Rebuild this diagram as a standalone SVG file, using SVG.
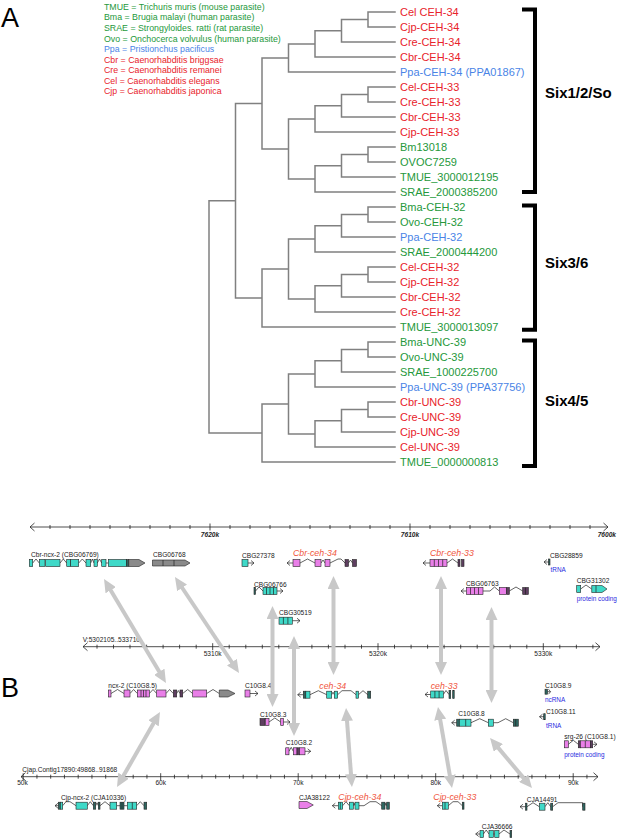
<svg xmlns="http://www.w3.org/2000/svg" width="617" height="838" viewBox="0 0 617 838">
<style>
text{font-family:"Liberation Sans",Arial,sans-serif}
.tr{fill:none;stroke:#808080;stroke-width:1.5;stroke-linecap:square}
.lf{font-size:11px}
.lg{font-size:8.8px}
.r{fill:#e8232b}.g{fill:#25983b}.b{fill:#4a84e6}
.bk{fill:none;stroke:#000;stroke-width:4}
.cl{font-size:15px;font-weight:bold;fill:#000}
.pl{font-size:27px;fill:#000}
.ax{fill:none;stroke:#222;stroke-width:.8}
.tl{font-size:6.6px;fill:#222;text-anchor:middle}
.bi{font-weight:bold;font-style:italic}
.gl{font-size:6.6px;fill:#222}
.rl{font-size:8.8px;font-style:italic;fill:#f0563e}
.bt{font-size:6.4px;fill:#2a2ae0}
.hm{fill:none;stroke:#c8c8c8;stroke-width:4;marker-start:url(#ah);marker-end:url(#ah)}
.t{fill:#3fd9c8;stroke:#222;stroke-width:.6}
.p{fill:#e97fe8;stroke:#222;stroke-width:.6}
.dt{fill:#2e6660;stroke:#222;stroke-width:.6}
.dp{fill:#5e3e60;stroke:#222;stroke-width:.6}
.gy{fill:#8a8a8a;stroke:#222;stroke-width:.6}
.in{fill:none;stroke:#222;stroke-width:.7}
</style>
<defs>
<marker id="ah" markerUnits="userSpaceOnUse" markerWidth="13" markerHeight="12" viewBox="0 0 13 12" refX="7" refY="6" orient="auto-start-reverse"><path d="M0,0L13,6L0,12z" fill="#c8c8c8"/></marker>
</defs>

<!-- Panel A -->
<text class="pl" x="1" y="26.5">A</text>
<g id="legend" class="lg">
<text class="g" x="104" y="9.8">TMUE = Trichuris muris (mouse parasite)</text>
<text class="g" x="104" y="20.4">Bma = Brugia malayi (human parasite)</text>
<text class="g" x="104" y="31">SRAE = Strongyloides. ratti (rat parasite)</text>
<text class="g" x="104" y="41.5">Ovo = Onchocerca volvulus (human parasite)</text>
<text class="b" x="104" y="52.1">Ppa = Pristionchus pacificus</text>
<text class="r" x="104" y="62.7">Cbr = Caenorhabditis briggsae</text>
<text class="r" x="104" y="73.3">Cre = Caenorhabditis remanei</text>
<text class="r" x="104" y="83.8">Cel = Caenorhabditis elegans</text>
<text class="r" x="104" y="94.4">Cjp = Caenorhabditis japonica</text>
</g>
<g id="tree">
<path class="tr" d="M209,200.7V432.9
M209,200.7H235.5 M235.5,103.4V297.9
M235.5,103.4H262 M262,57.9V148.9
M262,57.9H288.5 M288.5,43.9V72 M288.5,72H395
M288.5,43.9H315 M315,30.75V57 M315,57H395
M315,30.75H341.5 M341.5,19.5V42 M341.5,42H395
M341.5,19.5H368 M368,12V27 M368,12H395 M368,27H395
M262,148.9H288.5 M288.5,118.9V178.9
M288.5,118.9H315 M315,105.75V132 M315,132H395
M315,105.75H341.5 M341.5,94.5V117 M341.5,117H395
M341.5,94.5H368 M368,87V102 M368,87H395 M368,102H395
M288.5,178.9H315 M315,165.75V192 M315,192H395
M315,165.75H341.5 M341.5,154.5V177 M341.5,177H395
M341.5,154.5H368 M368,147V162 M368,147H395 M368,162H395
M235.5,297.9H262 M262,268.9V327 M262,327H395
M262,268.9H288.5 M288.5,238.9V298.9
M288.5,238.9H315 M315,225.75V252 M315,252H395
M315,225.75H341.5 M341.5,214.5V237 M341.5,237H395
M341.5,214.5H368 M368,207V222 M368,207H395 M368,222H395
M288.5,298.9H315 M315,285.75V312 M315,312H395
M315,285.75H341.5 M341.5,274.5V297 M341.5,297H395
M341.5,274.5H368 M368,267V282 M368,267H395 M368,282H395
M209,432.9H262 M262,403.9V462 M262,462H395
M262,403.9H288.5 M288.5,373.9V433.9
M288.5,373.9H315 M315,360.75V387 M315,387H395
M315,360.75H341.5 M341.5,349.5V372 M341.5,372H395
M341.5,349.5H368 M368,342V357 M368,342H395 M368,357H395
M288.5,433.9H315 M315,420.75V447 M315,447H395
M315,420.75H341.5 M341.5,409.5V432 M341.5,432H395
M341.5,409.5H368 M368,402V417 M368,402H395 M368,417H395"/>
</g>
<g id="leaves" class="lf">
<text class="r" x="400" y="15.9">Cel CEH-34</text>
<text class="r" x="400" y="30.9">Cjp-CEH-34</text>
<text class="r" x="400" y="45.9">Cre-CEH-34</text>
<text class="r" x="400" y="60.9">Cbr-CEH-34</text>
<text class="b" x="400" y="75.9">Ppa-CEH-34 (PPA01867)</text>
<text class="r" x="400" y="90.9">Cel-CEH-33</text>
<text class="r" x="400" y="105.9">Cre-CEH-33</text>
<text class="r" x="400" y="120.9">Cbr-CEH-33</text>
<text class="r" x="400" y="135.9">Cjp-CEH-33</text>
<text class="g" x="400" y="150.9">Bm13018</text>
<text class="g" x="400" y="165.9">OVOC7259</text>
<text class="g" x="400" y="180.9">TMUE_3000012195</text>
<text class="g" x="400" y="195.9">SRAE_2000385200</text>
<text class="g" x="400" y="210.9">Bma-CEH-32</text>
<text class="g" x="400" y="225.9">Ovo-CEH-32</text>
<text class="b" x="400" y="240.9">Ppa-CEH-32</text>
<text class="g" x="400" y="255.9">SRAE_2000444200</text>
<text class="r" x="400" y="270.9">Cel-CEH-32</text>
<text class="r" x="400" y="285.9">Cjp-CEH-32</text>
<text class="r" x="400" y="300.9">Cbr-CEH-32</text>
<text class="r" x="400" y="315.9">Cre-CEH-32</text>
<text class="g" x="400" y="330.9">TMUE_3000013097</text>
<text class="g" x="400" y="345.9">Bma-UNC-39</text>
<text class="g" x="400" y="360.9">Ovo-UNC-39</text>
<text class="g" x="400" y="375.9">SRAE_1000225700</text>
<text class="b" x="400" y="390.9">Ppa-UNC-39 (PPA37756)</text>
<text class="r" x="400" y="405.9">Cbr-UNC-39</text>
<text class="r" x="400" y="420.9">Cre-UNC-39</text>
<text class="r" x="400" y="435.9">Cjp-UNC-39</text>
<text class="r" x="400" y="450.9">Cel-UNC-39</text>
<text class="g" x="400" y="465.9">TMUE_0000000813</text>
</g>
<g id="clade-six12so"><path class="bk" d="M522,9.5H535V192H522"/><text class="cl" x="545" y="98.1">Six1/2/So</text></g>
<g id="clade-six36"><path class="bk" d="M522,205.5H535V329.7H522"/><text class="cl" x="545" y="268">Six3/6</text></g>
<g id="clade-six45"><path class="bk" d="M522,340.5H535V466H522"/><text class="cl" x="545" y="406">Six4/5</text></g>

<!-- Panel B -->
<text class="pl" x="1" y="697">B</text>

<g id="axis-cbr">
<path class="ax" d="M30,527H608M34.5,523L30,527L34.5,531M603.5,523L608,527L603.5,531
M50,525V529M70,525V529M90,525V529M110,525V529M130,525V529M150,525V529M170,525V529M190,525V529M210,523.5V530.5M230,525V529M250,525V529M270,525V529M290,525V529M310,525V529M330,525V529M350,525V529M370,525V529M390,525V529M410,523.5V530.5M430,525V529M450,525V529M470,525V529M490,525V529M510,525V529M530,525V529M550,525V529M570,525V529M590,525V529"/>
<text class="tl bi" x="210" y="536.6">7620k</text>
<text class="tl bi" x="410" y="536.6">7610k</text>
<text class="tl bi" x="616" y="536.6" style="text-anchor:end">7600k</text>
</g>

<g id="axis-cel">
<text class="gl" x="82.7" y="642.4">V:5302105..533710</text>
<path class="ax" d="M83,646.7H600M87.5,642.7L83,646.7L87.5,650.7M595.5,642.7L600,646.7L595.5,650.7
M97,644.7V648.7M113.5,644.7V648.7M130,644.7V648.7M146.6,644.7V648.7M163.1,644.7V648.7M179.6,644.7V648.7M196.2,644.7V648.7M212.7,643.2V650.2M229.2,644.7V648.7M245.8,644.7V648.7M262.3,644.7V648.7M278.8,644.7V648.7M295.4,644.7V648.7M311.9,644.7V648.7M328.4,644.7V648.7M345,644.7V648.7M361.5,644.7V648.7M378,643.2V650.2M394.5,644.7V648.7M411.1,644.7V648.7M427.6,644.7V648.7M444.1,644.7V648.7M460.7,644.7V648.7M477.2,644.7V648.7M493.7,644.7V648.7M510.2,644.7V648.7M526.8,644.7V648.7M543.3,643.2V650.2M559.8,644.7V648.7M576.4,644.7V648.7M592.9,644.7V648.7"/>
<text class="tl" x="212.7" y="656.4">5310k</text>
<text class="tl" x="378" y="656.4">5320k</text>
<text class="tl" x="543.3" y="656.4">5330k</text>
</g>

<g id="axis-cjp">
<text class="gl" x="22.3" y="772.4">Cjap.Contig17890:49868..91868</text>
<path class="ax" d="M21,776.7H598M25.5,772.7L21,776.7L25.5,780.7M593.5,772.7L598,776.7L593.5,780.7
M23.2,773.2V780.2M36.95,774.7V778.7M50.7,774.7V778.7M64.45,774.7V778.7M78.2,774.7V778.7M91.95,774.7V778.7M105.7,774.7V778.7M119.45,774.7V778.7M133.2,774.7V778.7M146.95,774.7V778.7M160.7,773.2V780.2M174.45,774.7V778.7M188.2,774.7V778.7M201.95,774.7V778.7M215.7,774.7V778.7M229.45,774.7V778.7M243.2,774.7V778.7M256.95,774.7V778.7M270.7,774.7V778.7M284.45,774.7V778.7M298.2,773.2V780.2M311.95,774.7V778.7M325.7,774.7V778.7M339.45,774.7V778.7M353.2,774.7V778.7M366.95,774.7V778.7M380.7,774.7V778.7M394.45,774.7V778.7M408.2,774.7V778.7M421.95,774.7V778.7M435.7,773.2V780.2M449.45,774.7V778.7M463.2,774.7V778.7M476.95,774.7V778.7M490.7,774.7V778.7M504.45,774.7V778.7M518.2,774.7V778.7M531.95,774.7V778.7M545.7,774.7V778.7M559.45,774.7V778.7M573.2,773.2V780.2M586.95,774.7V778.7"/>
<text class="tl" x="22.5" y="785.1">50k</text>
<text class="tl" x="160.7" y="785.1">60k</text>
<text class="tl" x="298.2" y="785.1">70k</text>
<text class="tl" x="435.7" y="785.1">80k</text>
<text class="tl" x="573.2" y="785.1">90k</text>
</g>

<!-- C. briggsae genes -->
<g id="cbr-ncx-2">
<text class="gl" x="31" y="557.4">Cbr-ncx-2 (CBG06769)</text>
<g transform="translate(0,563)">
<path class="in" d="M32.7,0L36,-4L39.3,0M60,0L63.3,-4L66.7,0M78.7,0L82.3,-4L86,0M90.7,0L92.3,-4L94,0M97.3,0L99.5,-4L101.7,0M106,0H108.3"/>
<rect class="t" x="29.3" y="-3.5" width="3.4" height="7"/>
<rect class="t" x="39.3" y="-3.5" width="5.7" height="7"/>
<rect class="t" x="45.7" y="-3.5" width="14.3" height="7"/>
<rect class="t" x="66.7" y="-3.5" width="4" height="7"/>
<rect class="t" x="70.7" y="-3.5" width="8" height="7"/>
<rect class="t" x="86" y="-3.5" width="4.7" height="7"/>
<rect class="t" x="94" y="-3.5" width="3.3" height="7"/>
<rect class="t" x="101.7" y="-3.5" width="4.3" height="7"/>
<rect class="t" x="108.3" y="-3.5" width="18.4" height="7"/>
<rect class="dt" x="126.7" y="-3.5" width="2" height="7"/>
<path class="gy" d="M128.7,-3.5H139L145,0L139,3.5H128.7z"/>
</g></g>
<g id="cbg06768">
<text class="gl" x="153" y="557.4">CBG06768</text>
<g transform="translate(0,563)">
<path class="gy" d="M152.5,-3H185L190,0L185,3H152.5z"/>
<path class="in" d="M163,-3V3M174,-3V3"/>
</g></g>
<g id="cbg27378">
<text class="gl" x="242" y="557.9">CBG27378</text>
<g transform="translate(0,563)">
<path class="in" d="M248,0H254M251,-2.5L254,0L251,2.5"/>
<rect class="t" x="242" y="-3.5" width="6" height="7"/>
</g></g>
<g id="cbr-ceh-34">
<text class="rl" x="293" y="555.6">Cbr-ceh-34</text>
<g transform="translate(0,563)">
<path class="in" d="M287,0H293M290,-2.5L287,0L290,2.5M300,0L307.5,-4L315,0M321,0L323,-3L325,0M330,0L338,-4L341,-4L345,0M348.5,0L350.5,-3L352.5,0"/>
<rect class="p" x="293" y="-3.5" width="7" height="7"/>
<rect class="p" x="315" y="-3.5" width="6" height="7"/>
<rect class="p" x="325" y="-3.5" width="5" height="7"/>
<rect class="dp" x="345" y="-3.5" width="3.5" height="7"/>
<rect class="dp" x="352.5" y="-3.5" width="4" height="7"/>
</g></g>
<g id="cbr-ceh-33">
<text class="rl" x="430" y="556.1">Cbr-ceh-33</text>
<g transform="translate(0,563)">
<path class="in" d="M423,0H430M426,-2.5L423,0L426,2.5M447,0L452.5,-4L458,0"/>
<rect class="p" x="430" y="-3.5" width="17" height="7"/>
<path class="in" d="M434.3,-3.5V3.5M438.5,-3.5V3.5M442.7,-3.5V3.5"/>
<rect class="dp" x="458" y="-3.5" width="2" height="7"/>
<rect class="dp" x="461.5" y="-3.5" width="2.5" height="7"/>
</g></g>
<g id="cbg28859">
<text class="gl" x="550" y="558.4">CBG28859</text>
<text class="bt" x="550.5" y="572.3">tRNA</text>
<g transform="translate(0,562)">
<path class="in" d="M544,0H550M547,-2.5L544,0L547,2.5"/>
<rect class="dt" x="548.5" y="-3" width="1.5" height="6"/>
</g></g>
<g id="cbg06766">
<text class="gl" x="254" y="586.7">CBG06766</text>
<g transform="translate(0,591)">
<path class="in" d="M255.5,0L259,-4L263,0M277,0H283M280,-2.5L283,0L280,2.5"/>
<rect class="dt" x="254" y="-3.5" width="1.5" height="7"/>
<rect class="t" x="263" y="-3.5" width="14" height="7"/>
<path class="in" d="M266.5,-3.5V3.5M270,-3.5V3.5M273.5,-3.5V3.5"/>
</g></g>
<g id="cbg06763">
<text class="gl" x="466" y="586.4">CBG06763</text>
<g transform="translate(0,591)">
<path class="in" d="M461,0H466.5M464,-2.5L461,0L464,2.5M483,0H490L494.5,-4L499.3,0M509.3,0L516,-4L522.7,0"/>
<rect class="p" x="466.5" y="-3.5" width="16.5" height="7"/>
<path class="in" d="M470.5,-3.5V3.5M474.5,-3.5V3.5M478.5,-3.5V3.5"/>
<rect class="p" x="499.3" y="-3.5" width="7.4" height="7"/>
<rect class="dp" x="506.7" y="-3.5" width="2.6" height="7"/>
<rect class="dp" x="522.7" y="-3.5" width="5.6" height="7"/>
<path class="in" d="M525.5,-3.5V3.5"/>
</g></g>
<g id="cbg31302">
<text class="gl" x="576.7" y="583.4">CBG31302</text>
<text class="bt" x="576.7" y="601.3">protein coding</text>
<g transform="translate(0,589)">
<path class="in" d="M580.7,0L586,-4L591.7,0"/>
<rect class="t" x="576.7" y="-3.5" width="4" height="7"/>
<path class="t" d="M591.7,-3.5H602L607,0L602,3.5H591.7z"/>
<path class="in" d="M596,-3.5V3.5"/>
</g></g>
<g id="cbg30519">
<text class="gl" x="279" y="615.1">CBG30519</text>
<g transform="translate(0,620.7)">
<path class="in" d="M292.3,0H300M297,-2.5L300,0L297,2.5"/>
<rect class="t" x="279" y="-3.5" width="13.3" height="7"/>
<path class="in" d="M283.4,-3.5V3.5M287.9,-3.5V3.5"/>
</g></g>

<!-- C. elegans genes -->
<g id="ncx-2">
<text class="gl" x="108.3" y="688.4">ncx-2 (C10G8.5)</text>
<g transform="translate(0,693.5)">
<path class="in" d="M111,0L117.5,-4L124,0M130,0L133.6,-4L137.3,0M149.3,0L153,-4L156.7,0M166,0L169.6,-4L173.3,0M176.7,0L178.3,-3L180,0M182.7,0L187.7,-4L192.7,0M206.7,0L213,-4L219.3,0"/>
<rect class="p" x="108.3" y="-3.5" width="2.7" height="7"/>
<rect class="p" x="124" y="-3.5" width="6" height="7"/>
<rect class="p" x="137.3" y="-3.5" width="12" height="7"/>
<path class="in" d="M141,-3.5V3.5M143.5,-3.5V3.5M146,-3.5V3.5"/>
<rect class="p" x="156.7" y="-3.5" width="9.3" height="7"/>
<rect class="dp" x="173.3" y="-3.5" width="3.4" height="7"/>
<rect class="dp" x="180" y="-3.5" width="2.7" height="7"/>
<rect class="p" x="192.7" y="-3.5" width="14" height="7"/>
<path class="gy" d="M219.3,-3.5H228L235,0L228,3.5H219.3z"/>
</g></g>
<g id="c10g8-4">
<text class="gl" x="245" y="688.4">C10G8.4</text>
<g transform="translate(0,693.5)">
<path class="in" d="M250,0H258M255,-2.5L258,0L255,2.5"/>
<rect class="p" x="245" y="-3.5" width="5" height="7"/>
</g></g>
<g id="ceh-34">
<text class="rl" x="319.3" y="689.1">ceh-34</text>
<g transform="translate(0,694.7)">
<path class="in" d="M297.7,0H303.3M300.7,-2.5L297.7,0L300.7,2.5M310,0L318.3,-4L326.7,0M331.7,0L333,-2.5L334.3,0M337.7,0L342,-4L351,-4L356,0M358.5,0L363,-4L367.7,0"/>
<rect class="dt" x="303.3" y="-3.5" width="2.5" height="7"/>
<rect class="t" x="305.8" y="-3.5" width="4.2" height="7"/>
<rect class="t" x="326.7" y="-3.5" width="5" height="7"/>
<rect class="t" x="334.3" y="-3.5" width="3.4" height="7"/>
<rect class="t" x="356" y="-3.5" width="2.5" height="7"/>
<rect class="dt" x="367.7" y="-3.5" width="3" height="7"/>
</g></g>
<g id="ceh-33">
<text class="rl" x="430.7" y="688.6">ceh-33</text>
<g transform="translate(0,694.5)">
<path class="in" d="M425,0H430.7M428,-2.5L425,0L428,2.5M443.3,0L446,-4L449,0"/>
<rect class="t" x="430.7" y="-3.5" width="12.6" height="7"/>
<path class="in" d="M434.9,-3.5V3.5M439.1,-3.5V3.5"/>
<rect class="dt" x="449" y="-4" width="1.7" height="8"/>
<rect class="dt" x="452.7" y="-4" width="1.5" height="8"/>
</g></g>
<g id="c10g8-9">
<text class="gl" x="545" y="688.4">C10G8.9</text>
<text class="bt" x="545" y="702.3">ncRNA</text>
<g transform="translate(0,691.7)">
<path class="in" d="M547.5,0H550.5M548.5,-2.5L550.5,0L548.5,2.5"/>
<rect class="dt" x="545" y="-2.5" width="2.5" height="5"/>
</g></g>
<g id="c10g8-11">
<text class="gl" x="546" y="714.1">C10G8.11</text>
<text class="bt" x="546" y="728">tRNA</text>
<g transform="translate(0,716.7)">
<path class="in" d="M539.5,0H545M542.5,-2.5L539.5,0L542.5,2.5"/>
<rect class="dt" x="543.7" y="-3" width="1.5" height="6"/>
</g></g>
<g id="c10g8-8">
<text class="gl" x="458.3" y="716.4">C10G8.8</text>
<g transform="translate(0,722.7)">
<path class="in" d="M451.7,0H456.7M454.7,-2.5L451.7,0L454.7,2.5M471,0L479.7,-4L488.3,0M493.3,0H498L505.7,-4L513.3,0"/>
<rect class="dt" x="456.7" y="-3.5" width="2.6" height="7"/>
<rect class="t" x="459.3" y="-3.5" width="11.7" height="7"/>
<path class="in" d="M465.7,-3.5V3.5"/>
<rect class="t" x="488.3" y="-3.5" width="5" height="7"/>
<rect class="dt" x="513.3" y="-3.5" width="5" height="7"/>
<path class="in" d="M515.7,-3.5V3.5"/>
</g></g>
<g id="srg-26">
<text class="gl" x="564.3" y="739.1">srg-26 (C10G8.1)</text>
<text class="bt" x="564.3" y="757.3">protein coding</text>
<g transform="translate(0,744.3)">
<path class="in" d="M568.3,0L573.3,-4L578.3,0M592.7,0H597M594,-2.5L597,0L594,2.5"/>
<rect class="p" x="564.3" y="-3.5" width="4" height="7"/>
<rect class="dp" x="578.3" y="-3.5" width="2" height="7"/>
<rect class="p" x="580.3" y="-3.5" width="10" height="7"/>
<path class="in" d="M585.3,-3.5V3.5"/>
<rect class="dp" x="590.3" y="-3.5" width="2.4" height="7"/>
</g></g>
<g id="c10g8-3">
<text class="gl" x="260" y="716.7">C10G8.3</text>
<g transform="translate(0,722)">
<path class="in" d="M269,0L274.8,-4L280.7,0M283.3,0H290M287,-2.5L290,0L287,2.5"/>
<rect class="dp" x="260" y="-3.5" width="5" height="7"/>
<rect class="p" x="265.5" y="-3.5" width="3.5" height="7"/>
<rect class="p" x="280.7" y="-3.5" width="2.6" height="7"/>
</g></g>
<g id="c10g8-2">
<text class="gl" x="285.7" y="745.1">C10G8.2</text>
<g transform="translate(0,751.3)">
<path class="in" d="M289,0L291.2,-4L293.3,0M305,0H310.7M307.7,-2.5L310.7,0L307.7,2.5"/>
<rect class="p" x="285.7" y="-3.5" width="3.3" height="7"/>
<rect class="p" x="293.3" y="-3.5" width="3.7" height="7"/>
<rect class="dp" x="297" y="-3.5" width="2.5" height="7"/>
<rect class="p" x="299.5" y="-3.5" width="5.5" height="7"/>
</g></g>

<!-- C. japonica genes -->
<g id="cjp-ncx-2">
<text class="gl" x="61" y="799.7">Cjp-ncx-2 (CJA10336)</text>
<g transform="translate(0,805.7)">
<path class="in" d="M55,0H58.3M58,-2.5L55,0L58,2.5M62.7,0L66,-4L70,-4L76,0M87.3,0L90.3,-4L93.3,0M95.7,0L97,-3L98.3,0M100,0L105,-4L110,0M116.7,0H120M124,0H127.3M136.7,0L140.3,-4L144,0"/>
<rect class="dt" x="58.3" y="-3.5" width="2" height="7"/>
<rect class="t" x="60.3" y="-3.5" width="2.4" height="7"/>
<rect class="t" x="76" y="-3.5" width="11.3" height="7"/>
<rect class="dt" x="93.3" y="-3.5" width="2.4" height="7"/>
<rect class="dt" x="98.3" y="-3.5" width="1.7" height="7"/>
<rect class="t" x="110" y="-3.5" width="6.7" height="7"/>
<rect class="dt" x="120" y="-3.5" width="4" height="7"/>
<path class="in" d="M122,-3.5V3.5"/>
<rect class="t" x="127.3" y="-3.5" width="9.4" height="7"/>
<path class="in" d="M132.3,-3.5V3.5"/>
<rect class="dt" x="144" y="-3.5" width="2.7" height="7"/>
</g></g>
<g id="cja38122">
<text class="gl" x="299" y="799.7">CJA38122</text>
<path class="p" d="M299,801.5H307L313.3,805L307,808.5H299z"/>
</g>
<g id="cjp-ceh-34">
<text class="rl" x="338.3" y="799.8">Cjp-ceh-34</text>
<g transform="translate(0,805.7)">
<path class="in" d="M332.3,0H338.3M335.3,-2.5L332.3,0L335.3,2.5M342.7,0L346,-4L349.3,0M353.3,0L354.1,-2.5L355,0M359,0H364L370,-4L376,-4L381.7,0M385,0L385.8,-2.5L386.7,0"/>
<rect class="t" x="338.3" y="-3.5" width="4.4" height="7"/>
<path class="in" d="M340.3,-3.5V3.5"/>
<rect class="t" x="349.3" y="-3.5" width="4" height="7"/>
<rect class="t" x="355" y="-3.5" width="4" height="7"/>
<rect class="dt" x="381.7" y="-3.5" width="3.3" height="7"/>
<rect class="dt" x="386.7" y="-3.5" width="2.6" height="7"/>
</g></g>
<g id="cjp-ceh-33">
<text class="rl" x="433.3" y="800.1">Cjp-ceh-33</text>
<g transform="translate(0,805.7)">
<path class="in" d="M437.3,0H442.3M440.3,-2.5L437.3,0L440.3,2.5M448.3,0L453,-4L458,-4L462.3,0"/>
<rect class="t" x="442.3" y="-3.5" width="6" height="7"/>
<path class="in" d="M445,-3.5V3.5"/>
<rect class="dt" x="462.3" y="-3.5" width="1.7" height="7"/>
</g></g>
<g id="cja14491">
<text class="gl" x="526.7" y="801.7">CJA14491</text>
<g transform="translate(0,806.7)">
<path class="in" d="M520,0H526M523,-2.5L520,0L523,2.5M527,0L533,-4L539.3,0M545,0L547.8,-4L550.7,0M552.7,0L558,-4L582.7,-4"/>
<path class="in" d="M582.7,-4V0"/>
<rect class="dt" x="525.5" y="-3.5" width="1.5" height="7"/>
<rect class="t" x="539.3" y="-3.5" width="5.7" height="7"/>
<rect class="dt" x="550.7" y="-3.5" width="2" height="7"/>
<rect class="dt" x="582.7" y="-3.5" width="2.3" height="7"/>
</g></g>
<g id="cja36666">
<text class="gl" x="481.7" y="829.1">CJA36666</text>
<g transform="translate(0,834)">
<path class="in" d="M475.7,0H480M478.7,-2.5L475.7,0L478.7,2.5M483.4,0L486.2,-4L489,0M493.3,0H494.7M499,0L504,-4L510,0"/>
<rect class="t" x="480" y="-3.5" width="3.4" height="7"/>
<rect class="t" x="489" y="-3.5" width="4.3" height="7"/>
<rect class="t" x="494.7" y="-3.5" width="4.3" height="7"/>
<rect class="dt" x="510" y="-3.5" width="1.7" height="7"/>
</g></g>

<!-- orthology connectors -->
<g id="connectors">
<path class="hm" d="M107.1,584.2L162.9,677.8"/>
<path class="hm" d="M178.3,582L235.7,668"/>
<path class="hm" d="M272.5,612V701"/>
<path class="hm" d="M294,642V730"/>
<path class="hm" d="M333.5,582V669"/>
<path class="hm" d="M441,582V669"/>
<path class="hm" d="M491.5,613V697"/>
<path class="hm" d="M346.5,714L351.5,781"/>
<path class="hm" d="M439,712.9L451,782.1"/>
<path class="hm" d="M493.9,742.6L528.1,783.4"/>
<path class="hm" d="M157,717.2L120,781.8"/>
</g>
</svg>
